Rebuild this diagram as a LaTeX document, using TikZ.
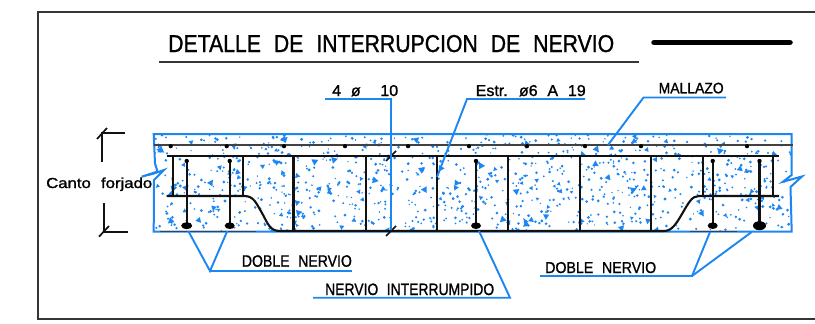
\documentclass[tikz,border=0pt]{standalone}
\usepackage{fontspec}
\usepackage{graphicx}
\usetikzlibrary{calc}
\setmainfont[WordSpace=2.2,FakeBold=1.2]{Liberation Sans}
\definecolor{cadblue}{HTML}{1C86F2}
\definecolor{cadblack}{HTML}{111111}
\newcommand{\cadtext}[3]{\resizebox{#1pt}{#2pt}{#3}}
\tikzset{
  frameline/.style={draw=cadblack!85,line width=2pt},
  leader/.style={draw=cadblue,line width=1.9pt,line join=miter},
  steel/.style={draw=cadblack,line width=2.1pt,line join=round},
  meshline/.style={draw=cadblack!80,line width=2pt},
  thinline/.style={draw=cadblack,line width=1.7pt},
  cadlabel/.style={inner sep=0pt,anchor=base west,text=black},
  rebar/.style={fill=black,draw=none}
}
\begin{document}
\begin{tikzpicture}[x=1pt,y=-1pt]
\useasboundingbox (0,0) rectangle (815,324);
\fill[white] (0,0) rectangle (815,324);
% frame
\coordinate (ftr) at (815,12);
\coordinate (ftl) at (37.5,12);
\coordinate (fbl) at (37.5,319);
\coordinate (fbr) at (815,319);
\draw[frameline] (ftr) -- (ftl) -- (fbl) -- (fbr);
% title
\node[cadlabel] (title) at (168,52) {\cadtext{446}{17}{DETALLE DE INTERRUPCION DE NERVIO}};
\coordinate (tl) at (158.5,61.7);
\coordinate (tr) at (639,61.7);
\draw[frameline] (tl) -- (tr);
\coordinate (bl) at (654,42.5);
\coordinate (br) at (790,42.5);
\draw[line width=5.5pt,line cap=round,draw=black] (bl) -- (br);
% speckle
\begin{scope}
\clip (154.5,135) rectangle (791,231);
\pgfmathsetseed{4217}
\foreach \i in {1,...,950}{
  \pgfmathsetmacro{\px}{154+rnd*637}
  \pgfmathsetmacro{\py}{135+rnd*96}
  \pgfmathsetmacro{\pr}{0.7+rnd*0.9}
  \fill[cadblue] (\px,\py) circle[radius=\pr];
}
\foreach \i in {1,...,130}{
  \pgfmathsetmacro{\px}{154+rnd*637}
  \pgfmathsetmacro{\py}{135+rnd*96}
  \pgfmathsetmacro{\pr}{1.8+rnd*2.2}
  \pgfmathsetmacro{\pa}{rnd*120}
  \fill[cadblue] ($(\px,\py)+(\pa:\pr)$) -- ($(\px,\py)+(\pa+120:\pr)$) -- ($(\px,\py)+(\pa+240:\pr)$) -- cycle;
}
\end{scope}
% slab outline with break lines
\draw[leader,line width=2pt] (155,163.5) -- (153.7,134) -- (791.7,134) -- (791.7,175) -- (783,181.7) -- (802,176.5) -- (790.5,187) -- (791.7,231.5) -- (153.7,231.5) -- (154,180) -- (164,170) -- (154,173.5) -- (141.7,176.7) -- (157.5,171.5) -- cycle;
% mesh
\coordinate (ml) at (153.5,145);
\coordinate (mr) at (793,145);
\draw[meshline] (ml) -- (mr);
\foreach \mx in {170.7,226.7,284,345,408,469,527,585,641,747}{
  \fill[rebar] (\mx,146.2) circle[radius=2.1];
}
% main longitudinal bars
\coordinate (ta) at (166.7,156);
\coordinate (tb) at (779,156);
\draw[steel] (ta) -- (tb);
\draw[steel] (166.7,196) -- (244,196) .. controls (254,196) and (256,203) .. (262,213) .. controls (268,224) and (270,231) .. (280,231) -- (664,231) .. controls (672,231) and (676,224) .. (682,214) .. controls (689,202) and (692,196) .. (699,196) -- (779,196);
\draw[meshline,line width=1.5pt] (160,231.5) -- (256,231.5);
\draw[meshline,line width=1.5pt] (690,231.5) -- (737,231.5);
% stirrups
\foreach \sx in {172.7,242.7,702.7,772.7}{
  \draw[steel] (\sx,156) -- (\sx,196);
}
\foreach \sx in {293.5,365.7,436.7,508.3,580,651}{
  \draw[steel] (\sx,156) -- (\sx,231);
}
% top-hung bars
\foreach \bx/\brx/\bry in {186.7/5.5/3.5,229.7/5/3.3,476/5/3.3,712.7/5/3.3,759.5/6.5/4.5}{
  \draw[steel] (\bx,161) -- (\bx,225);
  \fill[rebar] (\bx,161) circle[radius=2.2];
  \fill[rebar] (\bx,225.7) ellipse[x radius=\brx,y radius=\bry];
}
% break ticks
\draw[thinline] (386,161) -- (396,151);
\draw[thinline] (386,236) -- (396,226);
% dimension marks
\draw[thinline] (102.3,161.7) -- (102.3,133.3) -- (125,133.3);
\draw[thinline] (97,139) -- (107,128);
\draw[thinline] (104,203) -- (104,231.7) -- (127.7,231.7);
\draw[thinline] (99,236.7) -- (109,226);
% labels
\node[cadlabel] (canto) at (46,188) {\cadtext{106}{10.5}{Canto forjado}};
\node[cadlabel] (cuatro) at (332,96) {\cadtext{66}{11}{4 ø\ \ 10}};
\node[cadlabel] (estr) at (475.5,96) {\cadtext{110}{11}{Estr. ø6 A 19}};
\node[cadlabel] (mallazo) at (658.5,93.3) {\cadtext{65}{10.6}{MALLAZO}};
\node[cadlabel] (dobleA) at (241.7,266.7) {\cadtext{110}{11.5}{DOBLE NERVIO}};
\node[cadlabel] (nervio) at (325,295) {\cadtext{169}{11.5}{NERVIO INTERRUMPIDO}};
\node[cadlabel] (dobleB) at (545,273) {\cadtext{111}{11}{DOBLE NERVIO}};
% leaders
\draw[leader] (325,99.3) coordinate (a1) -- (391,99.3) coordinate (a2) -- (391,230) coordinate (a3);
\draw[leader] (585,99) coordinate (b1) -- (467,99) coordinate (b2) -- (437,177) coordinate (b3);
\draw[leader] (726,97.5) coordinate (c1) -- (643.5,97.5) coordinate (c2) -- (608,145) coordinate (c3);
\draw[leader] (188.3,231) coordinate (d1) -- (210,271) coordinate (d2) -- (227.3,231) coordinate (d3);
\draw[leader] (d2) -- (351.7,271) coordinate (d4);
\draw[leader] (313,297.7) coordinate (e1) -- (510,297.7) coordinate (e2) -- (479,231) coordinate (e3);
\draw[leader] (540,276) coordinate (f1) -- (692,276) coordinate (f2) -- (710,232) coordinate (f3);
\draw[leader] (f2) -- (751.7,232) coordinate (f4);
\end{tikzpicture}
\end{document}
